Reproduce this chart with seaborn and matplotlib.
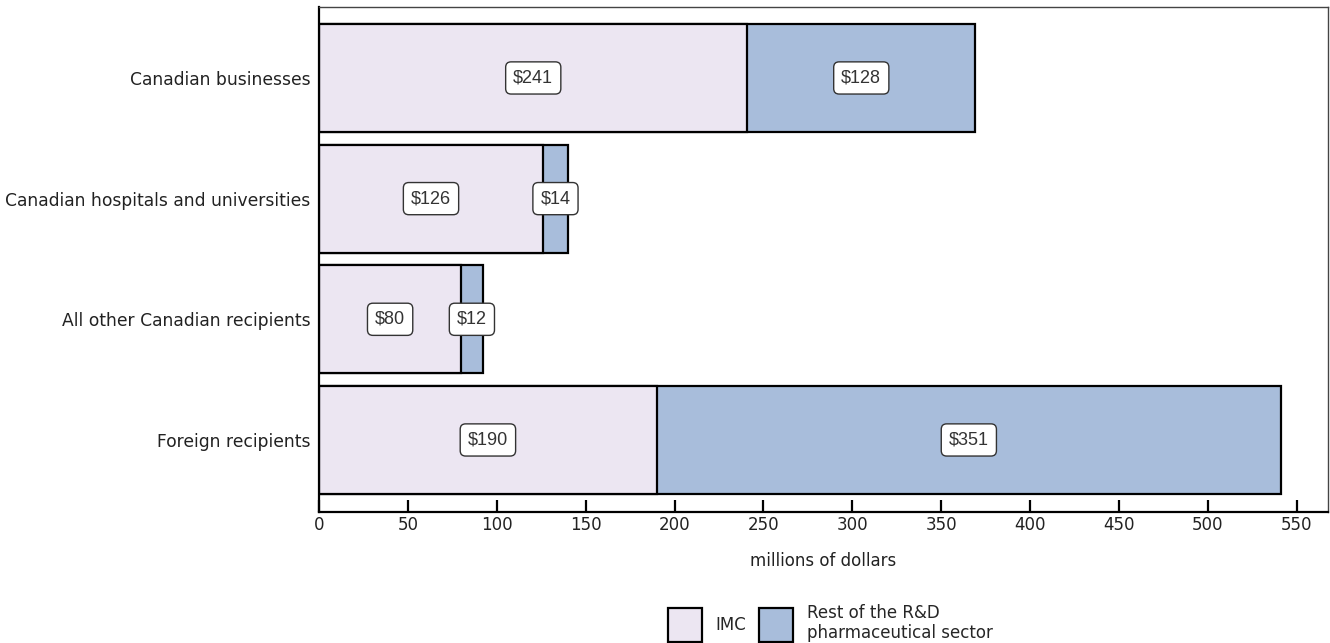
import matplotlib
matplotlib.use("Agg")
import matplotlib.pyplot as plt
from matplotlib.patches import Patch
import seaborn as sns
import pandas as pd

recipients = [
    "Canadian businesses",
    "Canadian hospitals and universities",
    "All other Canadian recipients",
    "Foreign recipients",
]
imc = [241, 126, 80, 190]
rest_of_sector = [128, 14, 12, 351]
series_names = ["IMC", "Rest of the R&D\npharmaceutical sector"]
x_ticks = list(range(0, 551, 50))
x_label = "millions of dollars"

imc_color = "#ECE6F2"
rest_color = "#A8BDDB"

sns.set_theme(style="white")
plt.rcParams["font.family"] = ["DejaVu Sans"]

df = pd.DataFrame({
    "recipient": recipients,
    "imc": imc,
    "rest": rest_of_sector,
})
df["total"] = df["imc"] + df["rest"]

fig = plt.figure(figsize=(13.3, 6.43), dpi=100)
ax = fig.add_axes([319 / 1330, 1 - 512 / 643, (1328 - 319) / 1330, (512 - 7) / 643])

bar_kw = dict(orient="h", edgecolor="black", linewidth=1.6, width=0.895)
sns.barplot(data=df, x="total", y="recipient", color=rest_color,
            saturation=1, ax=ax, **bar_kw)
sns.barplot(data=df, x="imc", y="recipient", color=imc_color,
            saturation=1, ax=ax, **bar_kw)

box = dict(boxstyle="round,pad=0.42,rounding_size=0.3", fc="white",
           ec="#333333", lw=1.0)
for i, row in df.iterrows():
    ax.text(row["imc"] / 2, i, f"${row['imc']}", ha="center", va="center",
            fontsize=13, family="Liberation Sans", color="#333333", bbox=box)
    ax.text(row["imc"] + row["rest"] / 2, i, f"${row['rest']}", ha="center",
            va="center", fontsize=13, family="Liberation Sans",
            color="#333333", bbox=box)

ax.set_xlim(0, 567.5)
ax.set_ylim(3.597, -0.588)
ax.set_xticks(x_ticks)
ax.set_xticklabels([str(t) for t in x_ticks], fontsize=12, color="#222222")
ax.tick_params(axis="x", direction="in", length=9, width=1.6, pad=3,
               color="black", bottom=True)
ax.tick_params(axis="y", length=0, pad=6, labelsize=12.3, labelcolor="#222222")
ax.set_ylabel("")
ax.set_xlabel(x_label, fontsize=12, color="#222222", labelpad=13)

for side, spine in ax.spines.items():
    spine.set_visible(True)
    spine.set_color("black")
    spine.set_linewidth(1.6 if side in ("left", "bottom") else 1.0)
ax.spines["top"].set_color("#444444")
ax.spines["right"].set_color("#444444")

handles = [Patch(facecolor=imc_color, edgecolor="black", linewidth=1.6),
           Patch(facecolor=rest_color, edgecolor="black", linewidth=1.6)]
fig.legend(handles, series_names, loc="center", bbox_to_anchor=(830 / 1330, 1 - 623 / 643),
           ncol=2, frameon=False, fontsize=12, handlelength=2.05, handleheight=2.7,
           handletextpad=0.8, columnspacing=0.8, labelspacing=0.0)

fig.savefig("out.png", dpi=100)
